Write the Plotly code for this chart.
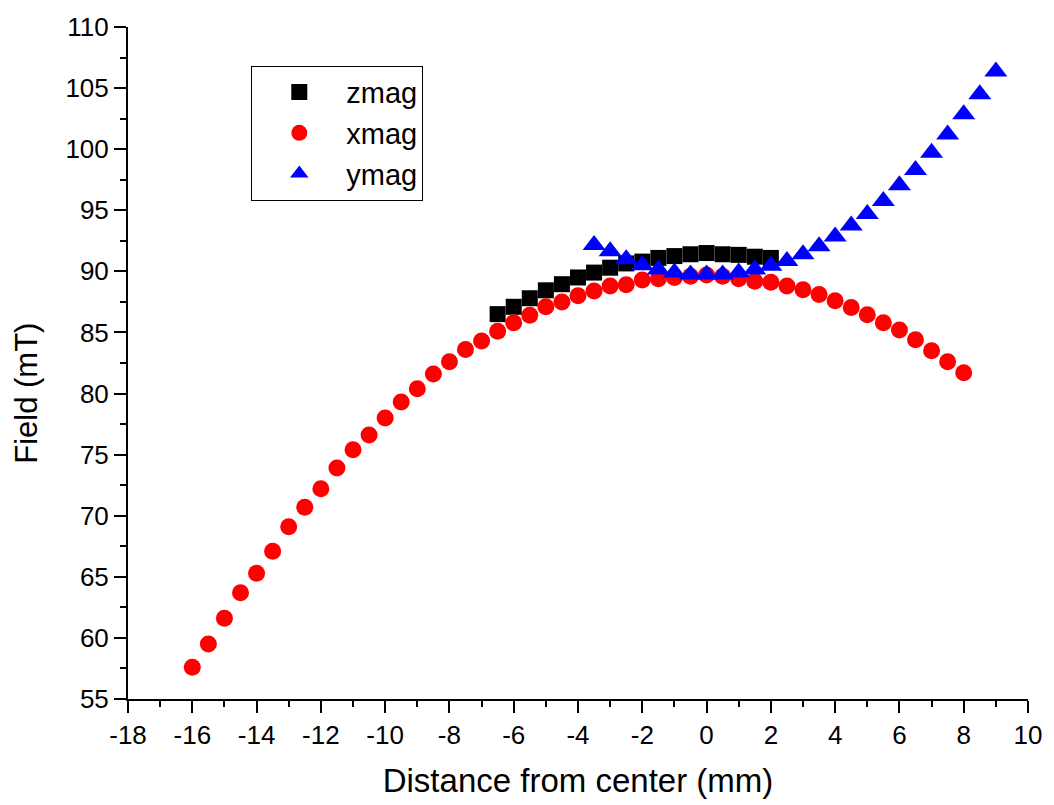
import plotly.graph_objects as go

# Position along the axis (mm) for each measured series
dist_z = [-6.5, -6.0, -5.5, -5.0, -4.5, -4.0, -3.5, -3.0, -2.5, -2.0, -1.5, -1.0,
          -0.5, 0.0, 0.5, 1.0, 1.5, 2.0]
dist_x = [-16.0, -15.5, -15.0, -14.5, -14.0, -13.5, -13.0, -12.5, -12.0, -11.5,
          -11.0, -10.5, -10.0, -9.5, -9.0, -8.5, -8.0, -7.5, -7.0, -6.5, -6.0,
          -5.5, -5.0, -4.5, -4.0, -3.5, -3.0, -2.5, -2.0, -1.5, -1.0, -0.5, 0.0,
          0.5, 1.0, 1.5, 2.0, 2.5, 3.0, 3.5, 4.0, 4.5, 5.0, 5.5, 6.0, 6.5, 7.0,
          7.5, 8.0]
dist_y = [-3.5, -3.0, -2.5, -2.0, -1.5, -1.0, -0.5, 0.0, 0.5, 1.0, 1.5, 2.0, 2.5,
          3.0, 3.5, 4.0, 4.5, 5.0, 5.5, 6.0, 6.5, 7.0, 7.5, 8.0, 8.5, 9.0]

# Field magnitude (mT)
zmag = [86.5, 87.1, 87.8, 88.45, 88.95, 89.5, 89.9, 90.3, 90.65, 90.8, 91.1,
        91.25, 91.4, 91.5, 91.4, 91.35, 91.2, 91.1]
xmag = [57.6, 59.5, 61.6, 63.7, 65.3, 67.1, 69.1, 70.7, 72.2, 73.9, 75.4, 76.6,
        78.0, 79.3, 80.4, 81.6, 82.6, 83.6, 84.3, 85.1, 85.8, 86.4, 87.1, 87.5,
        88.0, 88.4, 88.8, 88.9, 89.3, 89.4, 89.5, 89.6, 89.7, 89.6, 89.4, 89.2,
        89.1, 88.8, 88.5, 88.1, 87.6, 87.05, 86.45, 85.8, 85.2, 84.4, 83.5, 82.6,
        81.7]
ymag = [92.15, 91.65, 91.0, 90.5, 90.15, 89.9, 89.75, 89.75, 89.75, 89.9, 90.15,
        90.45, 90.85, 91.4, 92.05, 92.85, 93.75, 94.7, 95.75, 97.05, 98.3, 99.7,
        101.2, 102.85, 104.5, 106.35]

x_ticks = [-18, -16, -14, -12, -10, -8, -6, -4, -2, 0, 2, 4, 6, 8, 10]
y_ticks = [55, 60, 65, 70, 75, 80, 85, 90, 95, 100, 105, 110]

FONT = "Liberation Sans, Arial, sans-serif"

fig = go.Figure()
fig.add_trace(go.Scatter(x=dist_z, y=zmag, mode="markers", name="zmag",
                         marker=dict(symbol="square", size=16, color="#000000")))
fig.add_trace(go.Scatter(x=dist_x, y=xmag, mode="markers", name="xmag",
                         marker=dict(symbol="circle", size=17, color="#ff0000")))
fig.add_trace(go.Scatter(x=dist_y, y=ymag, mode="markers", name="ymag",
                         marker=dict(symbol="triangle-up", size=20, color="#0000ff")))

axis_common = dict(
    showline=True, linecolor="black", linewidth=2, mirror=False,
    showgrid=False, zeroline=False,
    ticks="outside", ticklen=12, tickwidth=2, tickcolor="black",
)

fig.update_xaxes(
    range=[-18, 10], tickvals=x_ticks, ticktext=[str(v) for v in x_ticks],
    tickfont=dict(family=FONT, size=26, color="black"),
    title=dict(text="Distance from center (mm)",
               font=dict(family=FONT, size=33, color="black"), standoff=20),
    minor=dict(dtick=1, ticks="outside", ticklen=6, tickwidth=2, tickcolor="black"),
    **axis_common,
)
fig.update_yaxes(
    range=[55, 110], tickvals=y_ticks, ticktext=[str(v) for v in y_ticks],
    tickfont=dict(family=FONT, size=26, color="black"),
    minor=dict(dtick=2.5, ticks="outside", ticklen=6, tickwidth=2, tickcolor="black"),
    **axis_common,
)

fig.add_annotation(
    text="Field (mT)", textangle=-90, showarrow=False,
    xref="paper", yref="paper", x=-0.1127, y=0.455,
    xanchor="center", yanchor="middle",
    font=dict(family=FONT, size=31, color="black"),
)

fig.update_layout(
    width=1054, height=805,
    margin=dict(l=128, r=21, t=23, b=106),
    paper_bgcolor="white", plot_bgcolor="white",
    legend=dict(
        x=0.137, y=0.9423, xanchor="left", yanchor="top",
        bordercolor="black", borderwidth=1, bgcolor="white",
        font=dict(family=FONT, size=29, color="black"),
        itemwidth=84,
    ),
)

fig.write_html("out.html")
